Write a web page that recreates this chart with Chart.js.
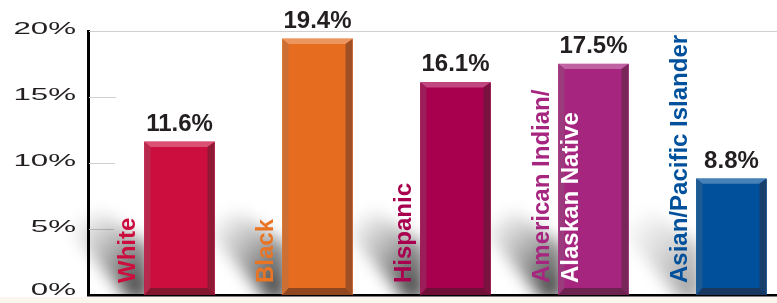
<!DOCTYPE html>
<html>
<head>
<meta charset="utf-8">
<script src="https://cdn.jsdelivr.net/npm/chart.js@4"></script>
<style>
  html, body { margin: 0; padding: 0; background: #fff; }
  #wrap { width: 777px; height: 303px; background: linear-gradient(#fff 297px, #fbf7ee 297px); }
</style>
</head>
<body>
<div id="wrap"><canvas id="chart"></canvas></div>
<script>
// data
const categories = [['White'], ['Black'], ['Hispanic'], ['American Indian/', 'Alaskan Native'], ['Asian/Pacific Islander']];
const rates = [11.6, 19.4, 16.1, 17.5, 8.8];
const yTicks = [0, 5, 10, 15, 20];
const barColors = ['#cc0e3e', '#e66c1f', '#a8004f', '#a6267f', '#00509b'];
const labelColors = [['#cc0e3e'], ['#e87424'], ['#a8004f'], ['#a6267f', '#ffffff'], ['#00509b']];

const FONT = "'Liberation Sans', Arial, sans-serif";

// mix a hex colour towards another rgb
const mix = (hex, to, t) => {
  const n = parseInt(hex.slice(1), 16);
  const c = [(n >> 16) & 255, (n >> 8) & 255, n & 255];
  return 'rgb(' + c.map((v, i) => Math.round(v + (to[i] - v) * t)).join(',') + ')';
};

const poly = (ctx, pts, fill) => {
  ctx.fillStyle = fill;
  ctx.beginPath();
  pts.forEach(([x, y], i) => (i ? ctx.lineTo(x, y) : ctx.moveTo(x, y)));
  ctx.closePath();
  ctx.fill();
};

// grid stubs + soft shadows behind the bars
const backdrop = {
  id: 'backdrop',
  beforeDatasetsDraw(chart) {
    const { ctx, chartArea, scales } = chart;
    const y = scales.y;
    ctx.save();
    ctx.strokeStyle = '#cfcfcf';
    ctx.lineWidth = 1;
    yTicks.forEach((v) => {
      if (v === 0) return;
      const py = Math.round(y.getPixelForValue(v)) + 0.5;
      const x2 = v === y.max ? chartArea.right : chartArea.left + 29 - (20 - v) * 0.2;
      ctx.beginPath();
      ctx.moveTo(chartArea.left + 1, py);
      ctx.lineTo(x2, py);
      ctx.stroke();
    });

    ctx.beginPath();
    ctx.rect(0, 0, chart.width, chartArea.bottom - 1);
    ctx.clip();
    ctx.filter = 'blur(8px)';
    chart.getDatasetMeta(0).data.forEach((bar, i) => {
      const L = bar.x - bar.width / 2, B = bar.base;
      const k = i === 4 ? 0.5 : 1;
      const g = ctx.createLinearGradient(L - 70, B - 75, L, B);
      g.addColorStop(0, 'rgba(0,0,0,0)');
      g.addColorStop(0.45, `rgba(0,0,0,${0.3 * k})`);
      g.addColorStop(1, `rgba(0,0,0,${0.8 * k})`);
      poly(ctx, [[L - 78, B - 70], [L - 45, B - 84], [L + 4, B - 50], [L + 4, B + 4], [L - 16, B + 4]], g);
    });
    ctx.restore();
  },
  afterDatasetsDraw(chart) {
    const { ctx } = chart;
    ctx.save();
    chart.getDatasetMeta(0).data.forEach((bar, i) => {
      const L = bar.x - bar.width / 2, R = bar.x + bar.width / 2, T = bar.y, B = bar.base;
      const c = barColors[i];
      // bevel edges
      poly(ctx, [[L, T], [R, T], [R - 7, T + 5], [L + 6, T + 5]], mix(c, [255, 255, 255], 0.28));
      poly(ctx, [[L, T], [L + 6, T + 5], [L + 6, B - 7], [L, B]], mix(c, [120, 120, 120], 0.25));
      poly(ctx, [[R, T], [R, B], [R - 7, B - 7], [R - 7, T + 5]], mix(c, [60, 40, 40], 0.42));
      poly(ctx, [[L, B], [R, B], [R - 7, B - 7], [L + 6, B - 7]], mix(c, [50, 30, 30], 0.48));

      // value label
      ctx.font = 'bold 24px ' + FONT;
      const txt = rates[i].toFixed(1) + '%';
      const w = ctx.measureText(txt).width;
      ctx.fillStyle = '#fff';
      ctx.fillRect(bar.x - w / 2 - 3, T - 31, w + 6, 22);
      ctx.fillStyle = '#231f20';
      ctx.textAlign = 'center';
      ctx.textBaseline = 'alphabetic';
      ctx.fillText(txt, bar.x, T - 11);

      // rotated category label
      categories[i].forEach((line, j) => {
        ctx.save();
        ctx.translate(L - 9 + j * 29, B - 12);
        ctx.rotate(-Math.PI / 2);
        ctx.textAlign = 'left';
        ctx.fillStyle = labelColors[i][j];
        ctx.fillText(line, 0, 0);
        ctx.restore();
      });
    });
    ctx.restore();
  },
  afterDraw(chart) {
    const { ctx } = chart;
    const y = chart.scales.y;
    ctx.save();
    ctx.font = '17px ' + FONT;
    ctx.fillStyle = '#231f20';
    ctx.textAlign = 'right';
    ctx.textBaseline = 'middle';
    yTicks.forEach((v) => {
      ctx.save();
      ctx.translate(76, y.getPixelForValue(v) + (v === 0 ? -5 : -2));
      ctx.scale(1.84, 1);
      ctx.fillText(v + '%', 0, 0);
      ctx.restore();
    });
    ctx.restore();
  },
};

new Chart(document.getElementById('chart'), {
  type: 'bar',
  data: {
    datasets: [{
      data: rates.map((v, i) => ({ x: i, y: v })),
      backgroundColor: barColors,
      borderWidth: 0,
      barThickness: 70,
    }],
  },
  options: {
    responsive: true,
    maintainAspectRatio: false,
    animation: false,
    layout: { padding: { top: 31, bottom: 8, left: 0, right: 0 } },
    plugins: { legend: { display: false }, tooltip: { enabled: false } },
    scales: {
      x: {
        type: 'linear',
        min: -0.663,
        max: 4.33,
        offset: false,
        ticks: { display: false },
        grid: { display: false },
        border: { display: true, color: '#000', width: 2.5 },
        afterFit: (s) => { s.height = 0; },
      },
      y: {
        min: 0,
        max: 20,
        ticks: { display: false, stepSize: 5 },
        grid: { display: false },
        border: { display: true, color: '#000', width: 3 },
        afterFit: (s) => { s.width = 88; },
      },
    },
  },
  plugins: [backdrop],
});
</script>
</body>
</html>
